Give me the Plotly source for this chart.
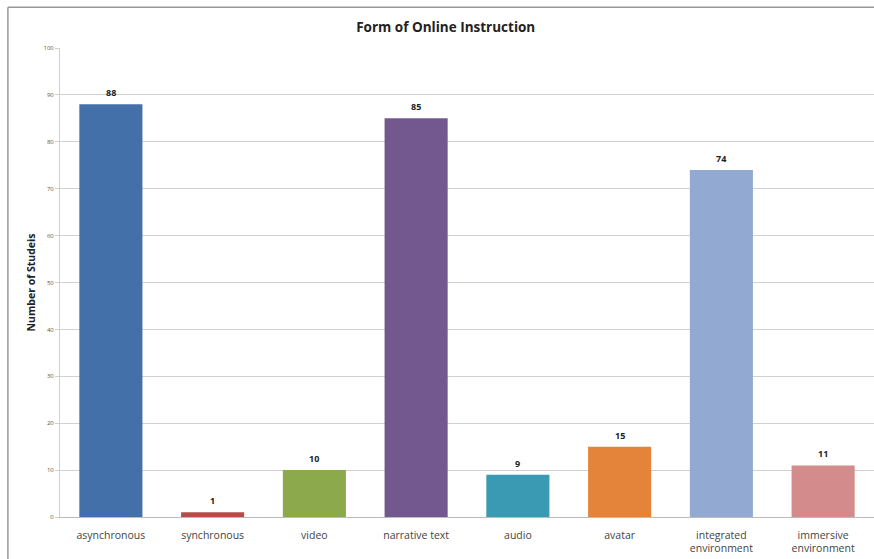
import plotly.graph_objects as go

categories = ["asynchronous", "synchronous", "video", "narrative text", "audio",
              "avatar", "integrated<br>environment", "immersive<br>environment"]
counts = [88, 1, 10, 85, 9, 15, 74, 11]
bar_colors = ["#4470A9", "#B84A48", "#8CAA4B", "#73588F", "#3B9AB3",
              "#E4843A", "#92A9D2", "#D48B8C"]
y_ticks = [0, 10, 20, 30, 40, 50, 60, 70, 80, 90, 100]

fig = go.Figure(go.Bar(
    x=categories,
    y=counts,
    marker=dict(color=bar_colors, line=dict(width=0)),
    width=0.62,
    hoverinfo="x+y",
))

# value labels sit a little above each bar
for cat, val in zip(categories, counts):
    fig.add_annotation(
        x=cat, y=val, text=f"<b>{val}</b>", showarrow=False,
        yanchor="bottom", yshift=3,
        font=dict(family="Open Sans", size=9, color="#222222"),
    )

fig.update_layout(
    width=874, height=559,
    margin=dict(l=60, r=0, t=48, b=42),
    paper_bgcolor="white",
    plot_bgcolor="white",
    showlegend=False,
    title=dict(text="<b>Form of Online Instruction</b>", x=0.51, xanchor="center",
               y=0.952, yanchor="middle",
               font=dict(family="Open Sans", size=13.5, color="#222222")),
    xaxis=dict(
        showgrid=False, showline=True, linecolor="#BBBBBB", linewidth=1,
        tickfont=dict(family="Open Sans", size=10.5, color="#444444"),
        ticks="", ticklabelstandoff=8, fixedrange=True,
    ),
    yaxis=dict(
        range=[0, 100], tickvals=y_ticks, showgrid=True, gridcolor="#D0D0D0",
        gridwidth=1, showline=True, linecolor="#D0D0D0", zeroline=False,
        ticks="outside", ticklen=4, tickcolor="#D0D0D0",
        tickfont=dict(family="Open Sans", size=6, color="#555555"),
        title=dict(text="<b>Number of Studeis</b>", standoff=5,
                   font=dict(family="Open Sans", size=10.5, color="#222222")),
    ),
    bargap=0.38,
    shapes=[
        dict(type="line", xref="paper", yref="paper", x0=-0.064, x1=-0.064,
             y0=-0.1, y1=1.087, line=dict(color="#999999", width=1.5)),
        dict(type="line", xref="paper", yref="paper", x0=-0.064, x1=1.0,
             y0=1.087, y1=1.087, line=dict(color="#999999", width=1.5)),
    ],
)

fig.write_html("out.html")
